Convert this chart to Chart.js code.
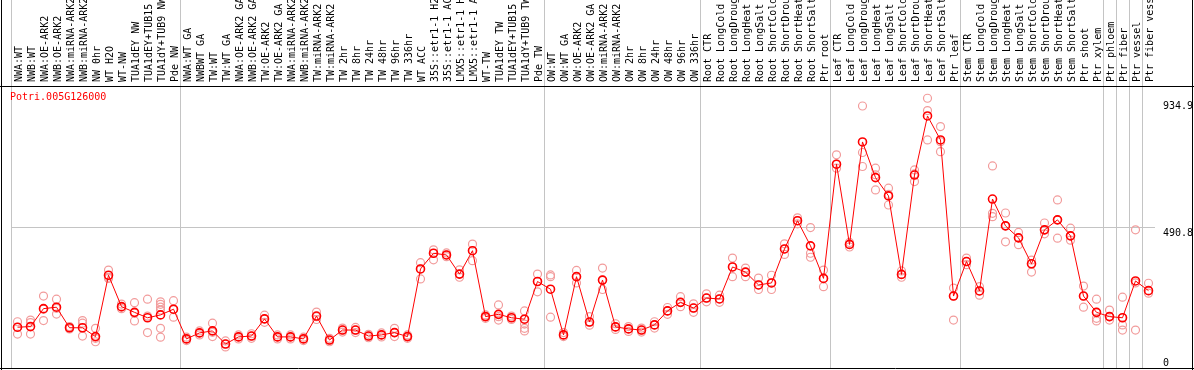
<!DOCTYPE html>
<html>
<head>
<meta charset="utf-8">
<script src="https://cdn.jsdelivr.net/npm/chart.js@4.4.0/dist/chart.umd.min.js"></script>
<style>
html, body { margin: 0; padding: 0; background: #fff; }
canvas { display: block; }
</style>
</head>
<body>
<canvas id="grafica" width="1194" height="370"></canvas>
<script>
// Nombre del gen (se dibuja arriba a la izquierda)
const gen = "Potri.005G126000";

// Muestras (eje x)
const categorias = [
  "NWA:WT", "NWB:WT", "NWA:OE-ARK2", "NWB:OE-ARK2", "NWA:miRNA-ARK2", "NWB:miRNA-ARK2",
  "NW 0hr", "WT H2O", "WT-NW", "TUA1dEY NW", "TUA1dEY+TUB15 NW", "TUA1dY+TUB9 NW", "Pde NW",
  "NWA:WT GA", "NWBWT GA", "TW:WT", "TW:WT GA", "NWA:OE-ARK2 GA", "NWB:OE-ARK2 GA",
  "TW:OE-ARK2", "TW:OE-ARK2 GA", "NWA:miRNA-ARK2", "NWB:miRNA-ARK2", "TW:miRNA-ARK2", "TW:miRNA-ARK2",
  "TW 2hr", "TW 8hr", "TW 24hr", "TW 48hr", "TW 96hr", "TW 336hr", "WT ACC",
  "35S::etr1-1 H2O", "35S::etr1-1 ACC", "LMX5::etr1-1 H2O", "LMX5::etr1-1 ACC",
  "WT-TW", "TUA1dEY TW", "TUA1dEY+TUB15 TW", "TUA1dY+TUB9 TW", "Pde TW",
  "OW:WT", "OW:WT GA", "OW:OE-ARK2", "OW:OE-ARK2 GA", "OW:miRNA-ARK2", "OW:miRNA-ARK2",
  "OW 2hr", "OW 8hr", "OW 24hr", "OW 48hr", "OW 96hr", "OW 336hr",
  "Root CTR", "Root LongCold", "Root LongDrought", "Root LongHeat", "Root LongSalt",
  "Root ShortCold", "Root ShortDrought", "Root ShortHeat", "Root ShortSalt", "Ptr root",
  "Leaf CTR", "Leaf LongCold", "Leaf LongDrought", "Leaf LongHeat", "Leaf LongSalt",
  "Leaf ShortCold", "Leaf ShortDrought", "Leaf ShortHeat", "Leaf ShortSalt", "Ptr leaf",
  "Stem CTR", "Stem LongCold", "Stem LongDrought", "Stem LongHeat", "Stem LongSalt",
  "Stem ShortCold", "Stem ShortDrought", "Stem ShortHeat", "Stem ShortSalt",
  "Ptr shoot", "Ptr xylem", "Ptr phloem", "Ptr fiber", "Ptr vessel", "Ptr fiber vessel"
];

// Valor medio de cada muestra (línea roja)
const medias = [
  143, 145, 208, 213, 141, 141, 110, 325, 215, 195, 176, 186, 206,
  102, 123, 130, 84, 109, 112, 172, 109, 109, 102, 182, 98, 133, 133, 112, 116, 124, 110,
  347, 402, 396, 329, 411, 180, 188, 176, 171, 303,
  276, 116, 320, 161, 308, 144, 137, 133, 151, 200, 230, 210,
  245, 242, 354, 336, 291, 298, 417, 516, 428, 314,
  714, 433, 792, 667, 603, 328, 676, 883, 799, 252,
  373, 270, 592, 498, 456, 365, 484, 519, 463,
  252, 195, 180, 176, 305, 271
];

// Réplicas (círculos rosados); null donde no hay réplica
const rep1 = [
  162, 168, 252, 241, 145, 166, 139, 343, 224, 229, 241, 232, 236,
  108, 130, 157, 95, 116, 120, 185, 116, 116, 108, 196, 104, 140, 142, 118, 123, 139, 116,
  369, 414, 403, 344, 434, 186, 221, 182, 200, 329,
  326, 124, 342, 180, 350, 155, 145, 140, 162, 212, 250, 225,
  260, 255, 385, 350, 315, 325, 435, 526, 492, 343,
  747, 440, 918, 700, 630, 340, 694, 945, 846, 280,
  385, 285, 708, 543, 475, 378, 508, 589, 490,
  287, 241, 203, 248, 484, 297
];
const rep2 = [
  142, 159, 206, 209, 141, 157, 104, 318, 213, 192, 182, 223, 204,
  102, 123, 125, 84, 109, 112, 172, 109, 109, 102, 180, 98, 133, 133, 112, 116, 124, 110,
  347, 402, 396, 329, 411, 180, 180, 176, 171, 303,
  320, 116, 320, 161, 308, 144, 137, 133, 151, 200, 230, 210,
  245, 242, 354, 336, 291, 298, 417, 516, 402, 314,
  714, 433, 755, 677, 608, 328, 680, 902, 793, 252,
  373, 270, 542, 498, 456, 365, 484, 519, 463,
  252, 195, 180, 176, 298, 271
];
const rep3 = [
  119, 119, 166, 189, 137, 112, 92, 314, 208, 165, 124, 213, 178,
  96, 116, 110, 74, 102, 104, 160, 102, 102, 96, 170, 92, 126, 124, 106, 109, 110, 104,
  312, 379, 390, 318, 376, 174, 168, 170, 154, 267,
  178, 110, 298, 150, 275, 135, 128, 126, 140, 188, 215, 195,
  232, 230, 320, 320, 275, 275, 398, 505, 388, 285,
  700, 424, 706, 624, 571, 318, 653, 799, 758, 168,
  362, 255, 530, 442, 432, 336, 470, 455, 448,
  213, 174, 168, 151, 133, 262
];
const rep4 = categorias.map(() => null);
rep4[11] = 203; rep4[39] = 139; rep4[83] = 165; rep4[85] = 133;
const rep5 = categorias.map(() => null);
rep5[11] = 139; rep5[39] = 130;
const rep6 = categorias.map(() => null);
rep6[11] = 108;

// Marcas del eje y y separadores verticales entre grupos
const marcasY = [490.8, 934.9];
const marcaCero = [0];
const separadores = [0, 13, 41, 53, 63, 73, 84, 85, 86, 87, 88];

const fuente = { family: "'DejaVu Sans Mono', monospace", size: 10 };
const gris = '#c4c4c4';
const transparente = 'rgba(0,0,0,0)';

// Marco negro y nombre del gen
const marco = {
  id: 'marco',
  afterDraw(chart) {
    const ctx = chart.ctx;
    const a = chart.chartArea;
    ctx.save();
    ctx.strokeStyle = '#000';
    ctx.lineWidth = 1;
    ctx.beginPath();
    ctx.moveTo(1.5, 0); ctx.lineTo(1.5, 370);
    ctx.moveTo(1192.5, 0); ctx.lineTo(1192.5, 370);
    ctx.moveTo(0, Math.round(a.top) + 0.5); ctx.lineTo(1194, Math.round(a.top) + 0.5);
    ctx.moveTo(0, 368.5); ctx.lineTo(1194, 368.5);
    ctx.stroke();
    ctx.fillStyle = 'red';
    ctx.font = "10px 'DejaVu Sans Mono', monospace";
    ctx.textBaseline = 'alphabetic';
    ctx.fillText(gen, 10, a.top + 14);
    ctx.restore();
  }
};

const replica = datos => ({
  data: datos,
  showLine: false,
  pointRadius: 4,
  pointBorderWidth: 1.2,
  pointBorderColor: '#f29c9c',
  pointBackgroundColor: transparente,
  order: 1
});

// Ajuste de los ejes verticales: sin relleno extra arriba/abajo
const ajusteY = ancho => s => { s.width = ancho; s.paddingTop = 0; s.paddingBottom = 0; };

new Chart(document.querySelector('#grafica'), {
  type: 'line',
  data: {
    labels: categorias,
    datasets: [
      {
        data: medias,
        borderColor: 'red',
        borderWidth: 1,
        pointRadius: 4,
        pointBorderWidth: 1.6,
        pointBorderColor: 'red',
        pointBackgroundColor: transparente,
        order: 0
      },
      replica(rep1), replica(rep2), replica(rep3),
      replica(rep4), replica(rep5), replica(rep6)
    ]
  },
  options: {
    responsive: false,
    animation: false,
    layout: { autoPadding: false, padding: { left: 11, right: 0, top: 0, bottom: 2 } },
    plugins: { legend: { display: false }, tooltip: { enabled: false } },
    scales: {
      x: {
        position: 'top',
        offset: true,
        grid: {
          offset: true,
          tickLength: 86,
          color: c => separadores.includes(c.index) ? gris : transparente
        },
        border: { color: '#000' },
        ticks: {
          autoSkip: false, minRotation: 90, maxRotation: 90,
          padding: -82, labelOffset: 14, color: '#000', font: fuente
        },
        afterFit: s => { s.height = 86; s.paddingLeft = 0; s.paddingRight = 0; }
      },
      cero: {
        position: 'right',
        weight: 0,
        min: 0,
        max: 988,
        afterBuildTicks: s => { s.ticks = marcaCero.map(v => ({ value: v })); },
        grid: { display: false, drawTicks: false },
        border: { display: false },
        ticks: {
          mirror: true, crossAlign: 'far', padding: 14, align: 'end',
          color: '#000', font: fuente, callback: v => String(v)
        },
        afterFit: ajusteY(0)
      },
      y: {
        position: 'right',
        weight: 1,
        min: 0,
        max: 988,
        afterBuildTicks: s => { s.ticks = marcasY.map(v => ({ value: v })); },
        grid: {
          drawTicks: false,
          color: c => (c.tick && c.tick.value === 490.8) ? gris : transparente
        },
        border: { display: false },
        ticks: { padding: 8, align: 'start', color: '#000', font: fuente, callback: v => String(v) },
        afterFit: ajusteY(39)
      }
    }
  },
  plugins: [marco]
});
</script>
</body>
</html>
